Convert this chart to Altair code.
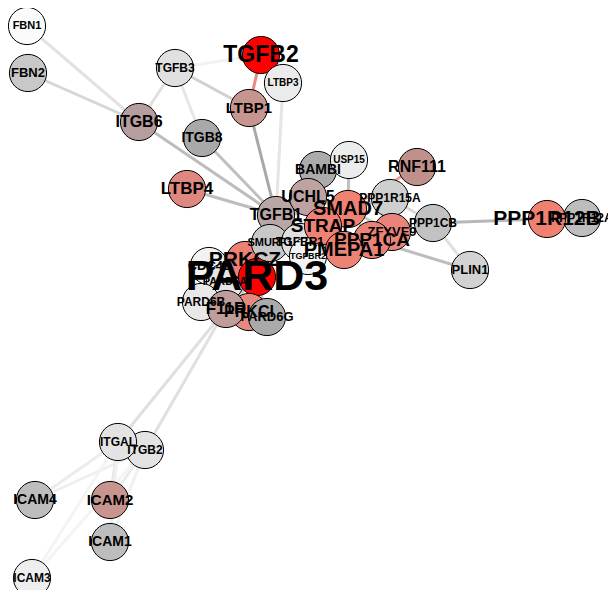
import altair as alt
import pandas as pd

# ---- node data (layout coordinates, in drawing order) ----
names = ["FBN1", "FBN2", "TGFB3", "TGFB2", "LTBP3", "LTBP1", "ITGB6", "ITGB8", "LTBP4",
         "BAMBI", "USP15", "RNF111", "TGFB1", "UCHL5", "PPP1R15A", "PPP1CB", "PLIN1",
         "PPP1R12A", "PPP1R12B", "CDC42", "PARD6A", "PRKCZ", "PARD3", "SMURF1", "TGFBR1",
         "TGFBR2", "SMAD7", "STRAP", "ZFYVE9", "PPP1CA", "PMEPA1", "PARD6B", "PRKCI", "F11R",
         "PARD6G", "ITGB2", "ITGAL", "ICAM4", "ICAM2", "ICAM1", "ICAM3"]
node_x = [27, 28, 175, 261, 283, 249, 139, 202, 187,
          318, 349, 417, 276, 308, 390, 433, 470,
          582, 547, 209, 225, 245, 257, 270, 300,
          308, 348, 323, 392, 372, 344, 201, 249, 226,
          267, 145, 118, 35, 110, 110, 32]
node_y = [26, 73, 68, 55, 83, 108, 122, 138, 189,
          170, 160, 167, 215, 197, 198, 223, 270,
          218, 219, 266, 282, 260, 277, 243, 242,
          256, 209, 226, 232, 240, 250, 302, 312, 309,
          317, 450, 442, 500, 500, 542, 578]
node_colors = ["#fbfbfb", "#c8c8c8", "#e0e0e0", "#ff0000", "#ebebeb", "#c7958f", "#b59e9d",
               "#a9a9a9", "#de8880", "#ababab", "#ececec", "#c0908b", "#b9a7a7", "#bfa3a2",
               "#cfcfcf", "#c2c2c2", "#d2d2d2", "#bdbdbd", "#f08070", "#f2f2f2", "#e6e6e6",
               "#ec8074", "#ff0000", "#c8c8c8", "#e0e0e0", "#f3f3f3", "#ef8272", "#ef8272",
               "#e8847a", "#eb8276", "#ed8375", "#e8e8e8", "#e58a7e", "#bf9d9a", "#aaaaaa",
               "#e3e3e3", "#e3e3e3", "#bdbdbd", "#c8948e", "#bdbdbd", "#eeeeee"]
label_sizes = [11, 13, 12, 23, 10, 15, 16, 14, 17,
               14, 10, 16, 16, 16, 12, 12, 13,
               12, 21, 13, 11, 21, 43, 11, 12,
               9, 20, 19, 13, 19, 20, 12, 16, 17,
               13, 12, 12, 14, 15, 14, 12]

# ---- edge data ----
edge_from = ["FBN1", "FBN2", "TGFB3", "TGFB3", "TGFB3", "TGFB3", "TGFB2", "ITGB6", "ITGB8",
             "LTBP1", "LTBP3", "LTBP4", "BAMBI", "USP15", "RNF111", "UCHL5", "TGFB1", "TGFB1",
             "TGFB1", "SMAD7", "SMAD7", "SMAD7", "SMAD7", "SMAD7", "PMEPA1", "PPP1CA",
             "PPP1CB", "PPP1CB", "PPP1R12B", "PPP1CB", "PPP1CA", "PARD3", "PARD3", "PARD3",
             "PARD3", "PARD3", "PARD3", "F11R", "F11R", "ITGAL", "ITGB2", "ITGAL", "ITGB2",
             "ITGAL", "ITGB2", "ITGAL", "ITGB2"]
edge_to = ["ITGB6", "ITGB6", "ITGB6", "ITGB8", "LTBP1", "TGFB2", "LTBP1", "TGFB1", "TGFB1",
           "TGFB1", "TGFB1", "TGFB1", "TGFB1", "SMAD7", "SMAD7", "SMAD7", "SMAD7", "TGFBR1",
           "TGFBR2", "SMURF1", "STRAP", "PPP1CA", "PPP1R15A", "ZFYVE9", "TGFBR1", "PPP1R15A",
           "PPP1R15A", "PPP1R12B", "PPP1R12A", "PLIN1", "PLIN1", "PRKCZ", "PRKCI", "F11R",
           "PARD6B", "PARD6G", "CDC42", "ITGAL", "ITGB2", "ICAM4", "ICAM4", "ICAM2", "ICAM2",
           "ICAM1", "ICAM1", "ICAM3", "ICAM3"]
edge_colors = ["#e2e2e2", "#d6d6d6", "#e0e0e0", "#e6e6e6", "#d0d0d0", "#f2f2f2", "#e88a80",
               "#bdbdbd", "#bfbfbf", "#a8a8a8", "#e5e5e5", "#bdbdbd", "#bdbdbd", "#c0c0c0",
               "#e8a09a", "#c0c0c0", "#bdbdbd", "#c8c8c8", "#c8c8c8", "#c8c8c8", "#c8c8c8",
               "#c8c8c8", "#c8c8c8", "#c8c8c8", "#c8c8c8", "#c8c8c8", "#d8d8d8", "#b8b8b8",
               "#c0c0c0", "#e0e0e0", "#bdbdbd", "#c8c8c8", "#c8c8c8", "#c8c8c8", "#c8c8c8",
               "#c8c8c8", "#c8c8c8", "#e0e0e0", "#e0e0e0", "#ececec", "#efefef", "#e8e8e8",
               "#ebebeb", "#f0f0f0", "#f0f0f0", "#f4f4f4", "#f4f4f4"]

nodes = pd.DataFrame({"name": names, "x": node_x, "y": node_y,
                      "fill": node_colors, "fs": label_sizes,
                      "order": list(range(len(names)))})
pos = {n: (x, y) for n, x, y in zip(names, node_x, node_y)}
edges = pd.DataFrame({
    "x": [pos[a][0] for a in edge_from], "y": [pos[a][1] for a in edge_from],
    "x2": [pos[b][0] for b in edge_to], "y2": [pos[b][1] for b in edge_to],
    "col": edge_colors,
})

xs = alt.Scale(domain=[8, 608], nice=False, zero=False)
ys = alt.Scale(domain=[8, 590], reverse=True, nice=False, zero=False)

edge_layer = alt.Chart(edges).mark_rule(strokeWidth=3).encode(
    x=alt.X("x:Q", scale=xs, axis=None),
    y=alt.Y("y:Q", scale=ys, axis=None),
    x2="x2:Q", y2="y2:Q",
    color=alt.Color("col:N", scale=None),
)

node_layer = alt.Chart(nodes).mark_circle(size=1385, opacity=1, stroke="black",
                                          strokeWidth=1).encode(
    x=alt.X("x:Q", scale=xs, axis=None),
    y=alt.Y("y:Q", scale=ys, axis=None),
    fill=alt.Fill("fill:N", scale=None),
    order=alt.Order("order:Q"),
)

label_layer = alt.Chart(nodes).mark_text(font="Liberation Sans", fontWeight="bold",
                                         color="black", align="center",
                                         baseline="middle").encode(
    x=alt.X("x:Q", scale=xs, axis=None),
    y=alt.Y("y:Q", scale=ys, axis=None),
    text="name:N",
    size=alt.Size("fs:Q", scale=None),
    order=alt.Order("order:Q"),
)

chart = alt.layer(edge_layer, node_layer, label_layer).properties(
    width=600, height=582, padding=0, autosize="none",
    background="white",
).configure_view(stroke=None)

chart.save("out.html", embed_options={"renderer": "svg", "actions": False})
